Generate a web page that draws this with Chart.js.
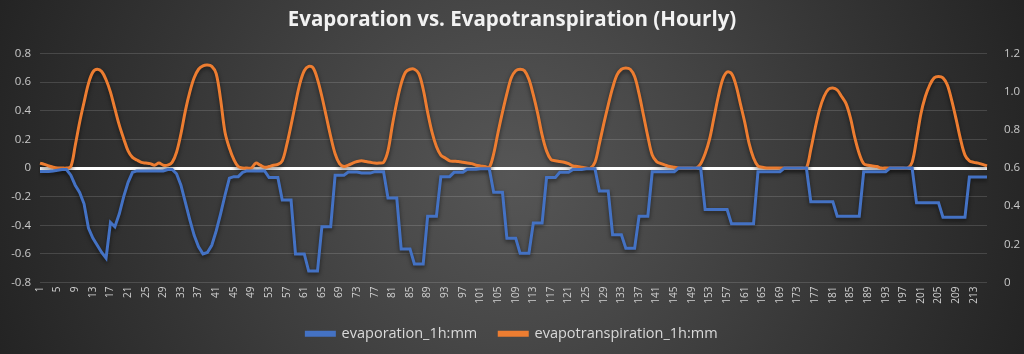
<!DOCTYPE html>
<html lang="en">
<head>
<meta charset="UTF-8">
<title>Evaporation vs. Evapotranspiration (Hourly)</title>
<script src="https://cdn.jsdelivr.net/npm/chart.js"></script>
<style>
  html, body { margin: 0; padding: 0; background: #2b2b2b; }
  #wrap { width: 1024px; height: 354px; position: relative; }
</style>
</head>
<body>
<div id="wrap"><canvas id="chart"></canvas></div>
<script>
// hour index 1..216
const hours = Array.from({ length: 216 }, (_, i) => String(i + 1));

// evaporation_1h:mm (left axis)
const evaporation = [
  -0.024, -0.024, -0.024, -0.02, -0.015, -0.01, -0.01, -0.05, -0.12, -0.17,
  -0.25, -0.42, -0.49, -0.54, -0.59, -0.63, -0.38, -0.41, -0.32, -0.2,
  -0.1, -0.03, -0.02, -0.02, -0.02, -0.02, -0.02, -0.02, -0.02, -0.01,
  -0.01, -0.04, -0.12, -0.24, -0.36, -0.47, -0.55, -0.6, -0.59, -0.54,
  -0.44, -0.32, -0.19, -0.07, -0.06, -0.06, -0.03, -0.02, -0.02, -0.02,
  -0.02, -0.02, -0.066, -0.066, -0.066, -0.224, -0.224, -0.224, -0.6, -0.6,
  -0.6, -0.72, -0.72, -0.72, -0.41, -0.41, -0.41, -0.05, -0.05, -0.05,
  -0.028, -0.028, -0.028, -0.035, -0.035, -0.035, -0.025, -0.025, -0.025, -0.21,
  -0.21, -0.21, -0.565, -0.565, -0.565, -0.67, -0.67, -0.67, -0.337, -0.337,
  -0.337, -0.06, -0.06, -0.06, -0.03, -0.03, -0.03, -0.008, -0.008, -0.008,
  -0.005, -0.005, -0.005, -0.17, -0.17, -0.17, -0.49, -0.49, -0.49, -0.596,
  -0.596, -0.596, -0.384, -0.384, -0.384, -0.066, -0.066, -0.066, -0.03, -0.03,
  -0.03, -0.01, -0.01, -0.01, -0.005, -0.005, -0.005, -0.16, -0.16, -0.16,
  -0.466, -0.466, -0.466, -0.56, -0.56, -0.56, -0.337, -0.337, -0.337, -0.026,
  -0.026, -0.026, -0.026, -0.026, -0.026, 0, 0, 0, 0, 0,
  0, -0.29, -0.29, -0.29, -0.29, -0.29, -0.29, -0.39, -0.39, -0.39,
  -0.39, -0.39, -0.39, -0.026, -0.026, -0.026, -0.026, -0.026, -0.026, 0,
  0, 0, 0, 0, 0, -0.235, -0.235, -0.235, -0.235, -0.235,
  -0.235, -0.337, -0.337, -0.337, -0.337, -0.337, -0.337, -0.026, -0.026, -0.026,
  -0.026, -0.026, -0.026, 0, 0, 0, 0, 0, 0, -0.243,
  -0.243, -0.243, -0.243, -0.243, -0.243, -0.344, -0.344, -0.344, -0.344, -0.344,
  -0.344, -0.063, -0.063, -0.063, -0.063, -0.063
];

// evapotranspiration_1h:mm (right axis)
const evapotranspiration = [
  0.626, 0.619, 0.611, 0.604, 0.6, 0.6, 0.6, 0.608, 0.718, 0.84,
  0.945, 1.043, 1.103, 1.118, 1.106, 1.063, 0.998, 0.911, 0.825, 0.754,
  0.69, 0.656, 0.642, 0.63, 0.626, 0.623, 0.615, 0.626, 0.615, 0.615,
  0.63, 0.683, 0.78, 0.9, 0.998, 1.073, 1.118, 1.136, 1.14, 1.133,
  1.095, 0.96, 0.788, 0.705, 0.645, 0.608, 0.6, 0.6, 0.6, 0.626,
  0.615, 0.604, 0.608, 0.615, 0.619, 0.638, 0.72, 0.825, 0.938, 1.043,
  1.11, 1.133, 1.125, 1.065, 0.975, 0.87, 0.765, 0.675, 0.623, 0.608,
  0.615, 0.626, 0.634, 0.638, 0.634, 0.63, 0.626, 0.626, 0.63, 0.69,
  0.825, 0.945, 1.043, 1.103, 1.118, 1.118, 1.095, 1.013, 0.893, 0.788,
  0.713, 0.668, 0.653, 0.638, 0.636, 0.634, 0.63, 0.626, 0.623, 0.615,
  0.611, 0.608, 0.604, 0.675, 0.788, 0.893, 0.99, 1.073, 1.11, 1.118,
  1.11, 1.065, 0.983, 0.885, 0.773, 0.69, 0.645, 0.638, 0.634, 0.63,
  0.623, 0.611, 0.608, 0.604, 0.6, 0.6, 0.63, 0.728, 0.833, 0.93,
  1.02, 1.088, 1.118, 1.125, 1.118, 1.08, 0.99, 0.878, 0.765, 0.668,
  0.634, 0.623, 0.615, 0.608, 0.604, 0.6, 0.6, 0.6, 0.6, 0.6,
  0.623, 0.675, 0.75, 0.863, 0.975, 1.065, 1.103, 1.095, 1.035, 0.938,
  0.84, 0.728, 0.653, 0.611, 0.604, 0.6, 0.6, 0.6, 0.6, 0.6,
  0.6, 0.6, 0.6, 0.6, 0.6, 0.698, 0.81, 0.908, 0.975, 1.013,
  1.02, 1.009, 0.975, 0.938, 0.863, 0.758, 0.675, 0.623, 0.615, 0.611,
  0.608, 0.6, 0.6, 0.6, 0.6, 0.6, 0.6, 0.6, 0.63, 0.75,
  0.885, 0.975, 1.035, 1.073, 1.08, 1.073, 1.035, 0.953, 0.855, 0.75,
  0.668, 0.638, 0.63, 0.626, 0.619, 0.611
];

const FONT = "'Open Sans', 'DejaVu Sans', sans-serif";

// dark radial backdrop like the office theme
const backdrop = {
  id: 'backdrop',
  beforeDraw(chart) {
    const { ctx, width, height } = chart;
    const g = ctx.createRadialGradient(512, 175, 0, 512, 175, 560);
    g.addColorStop(0, '#565656');
    g.addColorStop(0.3, '#474747');
    g.addColorStop(0.65, '#343434');
    g.addColorStop(1, '#222222');
    ctx.save();
    ctx.fillStyle = g;
    ctx.fillRect(0, 0, width, height);
    ctx.restore();
  }
};

// soft shadow under the lines
const lineShadow = {
  id: 'lineShadow',
  beforeDatasetDraw(chart) {
    const ctx = chart.ctx;
    ctx.save();
    ctx.shadowColor = 'rgba(0,0,0,0.55)';
    ctx.shadowBlur = 4;
    ctx.shadowOffsetY = 2;
  },
  afterDatasetDraw(chart) {
    chart.ctx.restore();
  }
};

new Chart(document.getElementById('chart'), {
  type: 'line',
  data: {
    labels: hours,
    datasets: [
      {
        label: 'evaporation_1h:mm',
        data: evaporation,
        yAxisID: 'y',
        borderColor: '#4472C4',
        backgroundColor: '#4472C4',
        borderWidth: 3,
        pointRadius: 0,
        tension: 0
      },
      {
        label: 'evapotranspiration_1h:mm',
        data: evapotranspiration,
        yAxisID: 'y1',
        borderColor: '#ED7D31',
        backgroundColor: '#ED7D31',
        borderWidth: 3,
        pointRadius: 0,
        tension: 0.35
      }
    ]
  },
  options: {
    responsive: true,
    maintainAspectRatio: false,
    animation: false,
    layout: { padding: { left: 0, right: 0, top: 0, bottom: 3 } },
    plugins: {
      title: {
        display: true,
        text: 'Evaporation vs. Evapotranspiration (Hourly)',
        color: '#f2f2f2',
        font: { family: FONT, size: 20.5, weight: 'bold' },
        padding: { top: 8, bottom: 21 }
      },
      legend: {
        position: 'bottom',
        labels: {
          color: '#d9d9d9',
          font: { family: FONT, size: 14.5 },
          boxWidth: 28,
          boxHeight: 3,
          padding: 22
        }
      },
      tooltip: { enabled: false }
    },
    scales: {
      x: {
        grid: { display: false, drawTicks: false },
        border: { display: false },
        afterFit(s) { s.height = 22; },
        ticks: {
          autoSkip: false,
          minRotation: 90,
          maxRotation: 90,
          padding: 4,
          color: '#d0d0d0',
          font: { family: FONT, size: 10 },
          callback(val, i) { return i % 4 === 0 ? this.getLabelForValue(val) : ''; }
        }
      },
      y: {
        position: 'left',
        min: -0.8,
        max: 0.8,
        afterFit(s) { s.width = 40; },
        border: { display: false },
        grid: {
          drawTicks: false,
          color: c => (c.tick && c.tick.value === 0) ? '#ffffff' : 'rgba(255,255,255,0.14)',
          lineWidth: c => (c.tick && c.tick.value === 0) ? 3 : 1
        },
        ticks: {
          stepSize: 0.2,
          padding: 9,
          color: '#c8c8c8',
          font: { family: FONT, size: 11.5 }
        }
      },
      y1: {
        position: 'right',
        min: 0,
        max: 1.2,
        afterFit(s) { s.width = 37; },
        border: { display: false },
        grid: { display: false, drawTicks: false },
        ticks: {
          stepSize: 0.2,
          padding: 17,
          color: '#c8c8c8',
          font: { family: FONT, size: 11.5 }
        }
      }
    }
  },
  plugins: [backdrop, lineShadow]
});
</script>
</body>
</html>
